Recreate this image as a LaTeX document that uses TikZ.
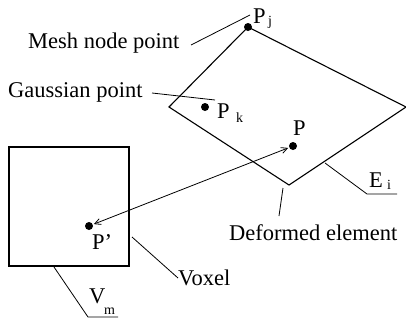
\documentclass[tikz,border=0pt]{standalone}
\usepackage{fontspec}
\setmainfont{Liberation Serif}
\usetikzlibrary{arrows.meta}
\begin{document}
\begin{tikzpicture}[x=1pt,y=-1pt,
  edge/.style={line width=1.1pt,line join=miter},
  leader/.style={line width=0.8pt},
  dot/.style={circle,fill=black,inner sep=0pt,minimum size=8pt},
  lbl/.style={anchor=base west,inner sep=0pt,font=\fontsize{22.5}{26}\selectfont},
  sub/.style={anchor=base west,inner sep=0pt,font=\fontsize{14}{16}\selectfont}]
\useasboundingbox (0,0) rectangle (406,322);
% deformed element
\coordinate (top) at (248,27);
\coordinate (left) at (169,107);
\coordinate (bot) at (289,185);
\coordinate (right) at (406,107);
\draw[edge] (top) -- (right) -- (bot) -- (left) -- cycle;
% voxel
\draw[edge] (9,147) rectangle (129,266);
% points
\node[dot] (pj) at (top) {};
\node[dot] (pk) at (205,107) {};
\node[dot] (p) at (293,146) {};
\node[dot] (pp) at (89,226) {};
\draw[leader,{Straight Barb[length=6pt,width=6pt]}-{Straight Barb[length=6pt,width=6pt]},shorten <=1pt,shorten >=1pt] (pp) -- (p);
% labels
\node[lbl] (lpj) at (253,23) {P};
\node[sub] (spj) at (268,25) {j};
\node[lbl] (lpk) at (217,118) {P};
\node[sub] (spk) at (236,122) {k};
\node[lbl] (lp) at (293,135) {P};
\node[lbl] (lpp) at (92,249) {P’};
\node[lbl] (lei) at (369,187) {E};
\node[sub] (sei) at (387,189) {i};
\node[lbl] (lvm) at (89,303) {V};
\node[sub] (svm) at (104,314) {m};
\node[lbl] (mesh) at (28,48) {Mesh node point};
\node[lbl] (gauss) at (8,97) {Gaussian point};
\node[lbl] (deform) at (229,240) {Deformed element};
\node[lbl] (voxel) at (178,285) {Voxel};
% leaders
\coordinate (m1) at (191,45); \coordinate (m2) at (250,15);
\draw[leader] (m1) -- (m2);
\coordinate (g1) at (152,93); \coordinate (g2) at (215,100);
\draw[leader] (g1) -- (g2);
\coordinate (d1) at (283,188); \coordinate (d2) at (279,216);
\draw[leader] (d1) -- (d2);
\coordinate (v1) at (132,237); \coordinate (v2) at (178,278);
\draw[leader] (v1) -- (v2);
\coordinate (e1) at (325,163); \coordinate (e2) at (367,194); \coordinate (e3) at (397,194);
\draw[leader] (e1) -- (e2) -- (e3);
\coordinate (w1) at (54,267); \coordinate (w2) at (88,317); \coordinate (w3) at (118,317);
\draw[leader] (w1) -- (w2) -- (w3);
\end{tikzpicture}
\end{document}
